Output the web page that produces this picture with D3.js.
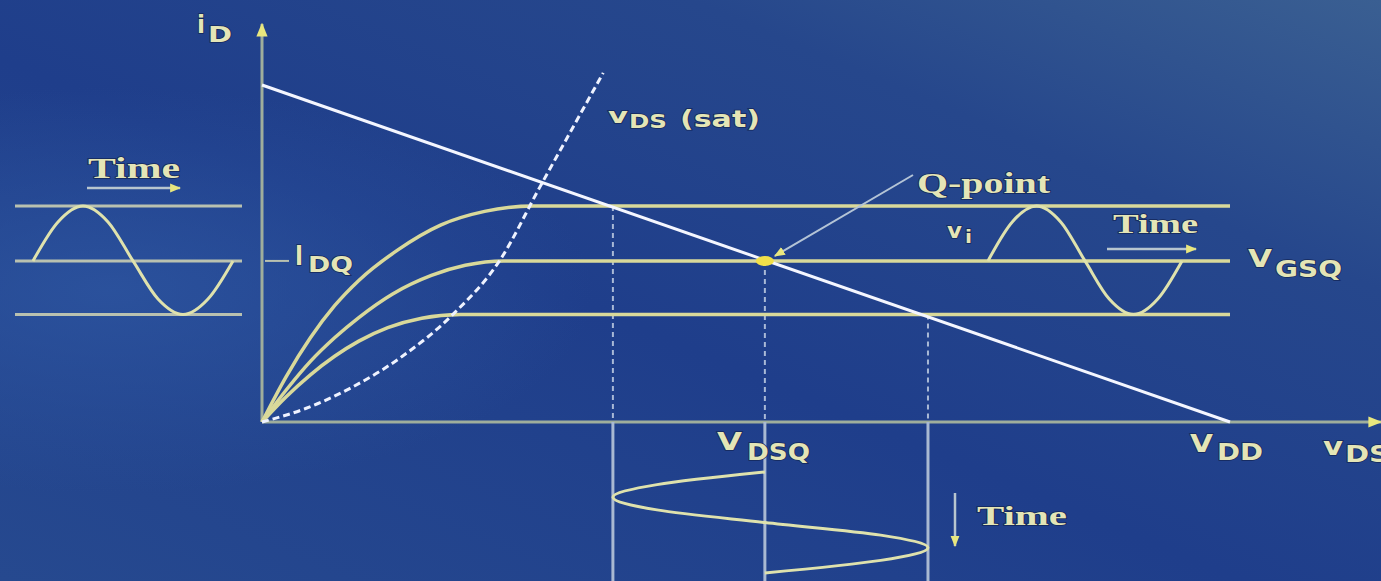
<!DOCTYPE html>
<html>
<head>
<meta charset="utf-8">
<script src="https://cdn.jsdelivr.net/npm/d3@7/dist/d3.min.js"></script>
<style>
  html, body { margin: 0; padding: 0; background: #22438d; overflow: hidden; }
  svg { display: block; }
</style>
</head>
<body>
<div class="graph"></div>
<script>
// values: vDS in volts, iD in mA
const vdd = 20;
const idMax = 10;
const curveTop = [[0, 0], [0.5, 1.35], [1.0, 2.5], [1.5, 3.45], [2.0, 4.2], [2.8, 5.1], [3.7, 5.85], [4.6, 6.25], [5.6, 6.41], [20, 6.41]];
const curveMid = [[0, 0], [0.5, 0.95], [1.0, 1.8], [1.5, 2.5], [2.0, 3.1], [2.7, 3.8], [3.5, 4.35], [4.2, 4.65], [5.0, 4.78], [20, 4.78]];
const curveLow = [[0, 0], [0.5, 0.75], [1.0, 1.4], [1.5, 1.95], [2.0, 2.4], [2.6, 2.8], [3.3, 3.08], [4.1, 3.19], [20, 3.19]];
const satLine = [[0, 0], [0.9, 0.4], [1.82, 1.0], [2.9, 1.95], [3.95, 3.2], [4.92, 4.81], [5.74, 6.97], [6.4, 8.68], [7.05, 10.36]];
const loadLine = [[0, 10], [20, 0]];
const qPoint = [10.39, 4.78];
const levels = [3.19, 4.78, 6.41];          // iD of the three gate voltages
const swingV = [7.25, 10.39, 13.76];        // vDS where the load line cuts them
const dropPairs = [[7.25, 6.41], [10.39, 4.78], [13.76, 3.19]];
// one period of the input / output signals
const sineT = [0, 0.125, 0.25, 0.375, 0.5, 0.625, 0.75, 0.875, 1];
const sineUp = [0, 0.71, 1, 0.71, 0, -0.71, -1, -0.71, 0];
const sineOut = [0, -0.71, -1, -0.71, 0, 0.71, 1, 0.71, 0];

const W = 1381, H = 581;
const svg = d3.select(".graph").append("svg")
    .attr("width", W)
    .attr("height", H);

const defs = svg.append("defs");
const bg = defs.append("linearGradient").attr("id", "bg")
    .attr("x1", "0").attr("y1", "1").attr("x2", "1").attr("y2", "0");
bg.append("stop").attr("offset", "0").attr("stop-color", "#26498f");
bg.append("stop").attr("offset", "0.45").attr("stop-color", "#1f3e8b");
bg.append("stop").attr("offset", "0.75").attr("stop-color", "#26478c");
bg.append("stop").attr("offset", "1").attr("stop-color", "#3a5f92");
const glow = defs.append("radialGradient").attr("id", "glow")
    .attr("cx", "0.08").attr("cy", "0.5").attr("r", "0.35");
glow.append("stop").attr("offset", "0").attr("stop-color", "#2d55a0").attr("stop-opacity", 0.8);
glow.append("stop").attr("offset", "1").attr("stop-color", "#2d55a0").attr("stop-opacity", 0);

function arrowMarker(id, size) {
    defs.append("marker").attr("id", id)
        .attr("viewBox", "0 0 10 10")
        .attr("refX", 9).attr("refY", 5)
        .attr("markerWidth", size).attr("markerHeight", size)
        .attr("markerUnits", "userSpaceOnUse")
        .attr("orient", "auto")
        .append("path")
        .attr("d", "M0,1 L10,5 L0,9 Z")
        .attr("fill", "#e9e77e");
}
arrowMarker("head", 14);
arrowMarker("small", 11);

svg.append("rect").attr("width", W).attr("height", H).attr("fill", "url(#bg)");
svg.append("rect").attr("width", W).attr("height", H).attr("fill", "url(#glow)");

var x = d3.scaleLinear().domain([0, vdd]).range([262, 1230]);
var y = d3.scaleLinear().domain([0, idMax]).range([422, 85]);

var yellow = "#d9d99a";
var axisCol = "#9fae9c";
var textCol = "#e4e5b6";

// axes
svg.append("line")
    .attr("x1", x(0)).attr("y1", y(0)).attr("x2", x(0)).attr("y2", 24)
    .attr("stroke", axisCol).attr("stroke-width", 3)
    .attr("marker-end", "url(#head)");
svg.append("line")
    .attr("x1", x(0)).attr("y1", y(0)).attr("x2", 1381).attr("y2", y(0))
    .attr("stroke", axisCol).attr("stroke-width", 3)
    .attr("marker-end", "url(#head)");

// projections of the swing onto the vDS axis
svg.selectAll(".drop").data(dropPairs).enter().append("line")
    .attr("class", "drop")
    .attr("x1", d => x(d[0])).attr("x2", d => x(d[0]))
    .attr("y1", d => y(d[1])).attr("y2", y(0))
    .attr("stroke", "#a9b9d6").attr("stroke-width", 2)
    .attr("stroke-dasharray", "5,4");
svg.selectAll(".below").data(dropPairs).enter().append("line")
    .attr("class", "below")
    .attr("x1", d => x(d[0])).attr("x2", d => x(d[0]))
    .attr("y1", y(0)).attr("y2", H)
    .attr("stroke", "#a9b9d2").attr("stroke-width", 3);

// drain curves
var valueLine = d3.line()
    .x(d => x(d[0]))
    .y(d => y(d[1]))
    .curve(d3.curveMonotoneX);
[curveTop, curveMid, curveLow].forEach(c => {
    svg.append("path")
        .data([c])
        .attr("fill", "none")
        .attr("stroke", yellow)
        .attr("stroke-width", 3.5)
        .attr("d", valueLine);
});

// vDS(sat) boundary
svg.append("path")
    .data([satLine])
    .attr("fill", "none")
    .attr("stroke", "#eef2ff")
    .attr("stroke-width", 3)
    .attr("stroke-dasharray", "7,4")
    .attr("d", valueLine);

// load line
svg.append("path")
    .data([loadLine])
    .attr("fill", "none")
    .attr("stroke", "#f4f6ff")
    .attr("stroke-width", 3)
    .attr("d", d3.line().x(d => x(d[0])).y(d => y(d[1])));

// input sine on the left, with its reference levels
var amp = d3.scaleLinear().domain([-1, 0, 1]).range([y(levels[0]), y(levels[1]), y(levels[2])]);
svg.selectAll(".ref").data(levels).enter().append("line")
    .attr("class", "ref")
    .attr("x1", 15).attr("x2", 242)
    .attr("y1", d => y(d)).attr("y2", d => y(d))
    .attr("stroke", "#b9c1b0").attr("stroke-width", 3);

var tLeft = d3.scaleLinear().domain([0, 1]).range([33, 233]);
svg.append("path")
    .data([sineUp])
    .attr("fill", "none").attr("stroke", "#dfe2ad").attr("stroke-width", 3)
    .attr("d", d3.line().x((d, i) => tLeft(sineT[i])).y(d => amp(d)).curve(d3.curveMonotoneX));

// same signal at the gate, on the right
var tRight = d3.scaleLinear().domain([0, 1]).range([988, 1182]);
svg.append("path")
    .data([sineUp])
    .attr("fill", "none").attr("stroke", "#dfe2ad").attr("stroke-width", 3)
    .attr("d", d3.line().x((d, i) => tRight(sineT[i])).y(d => amp(d)).curve(d3.curveMonotoneX));

// output swing below the axis
var swing = d3.scaleLinear().domain([-1, 0, 1]).range(swingV.map(v => x(v)));
var tDown = d3.scaleLinear().domain([0, 1]).range([472, 573]);
svg.append("path")
    .data([sineOut])
    .attr("fill", "none").attr("stroke", "#dfe2ad").attr("stroke-width", 3)
    .attr("d", d3.line().y((d, i) => tDown(sineT[i])).x(d => swing(d)).curve(d3.curveMonotoneY));

// Q-point
svg.append("ellipse")
    .attr("cx", x(qPoint[0])).attr("cy", y(qPoint[1]))
    .attr("rx", 9).attr("ry", 5)
    .attr("fill", "#f1e04a");
svg.append("line")
    .attr("x1", 913).attr("y1", 175)
    .attr("x2", x(qPoint[0]) + 10).attr("y2", y(qPoint[1]) - 5)
    .attr("stroke", "#b4c4d6").attr("stroke-width", 2)
    .attr("marker-end", "url(#small)");

// IDQ tick
svg.append("line")
    .attr("x1", x(0) + 3).attr("x2", x(0) + 27)
    .attr("y1", y(qPoint[1])).attr("y2", y(qPoint[1]))
    .attr("stroke", "#b9c1b0").attr("stroke-width", 2);

// time arrows
function timeArrow(x1, y1, x2, y2) {
    svg.append("line")
        .attr("x1", x1).attr("y1", y1).attr("x2", x2).attr("y2", y2)
        .attr("stroke", "#b8c6cf").attr("stroke-width", 2.5)
        .attr("marker-end", "url(#small)");
}
timeArrow(87, 188, 180, 188);
timeArrow(1107, 249, 1196, 249);
timeArrow(955, 493, 955, 546);

// labels
function put(txt, px, py, size, width, family, weight) {
    svg.append("text")
        .attr("x", px).attr("y", py)
        .attr("font-family", family || "DejaVu Sans")
        .attr("font-weight", weight || "bold")
        .attr("font-size", size)
        .attr("textLength", width)
        .attr("lengthAdjust", "spacingAndGlyphs")
        .attr("fill", textCol)
        .attr("stroke", "#14285a").attr("stroke-width", 1.5)
        .attr("paint-order", "stroke")
        .text(txt);
}
var serif = "Liberation Serif";

put("i", 197, 33, 24, 8);
put("D", 208, 42, 21, 24);

put("v", 608, 123, 21, 20);
put("DS", 629, 128, 20, 38);
put("(sat)", 680, 127, 23, 80);

put("Time", 88, 178, 29, 92, serif, "bold");
put("Q-point", 917, 193, 30, 133, serif, "bold");
put("Time", 1113, 233, 27, 85, serif, "bold");
put("Time", 977, 525, 27, 90, serif, "bold");

put("v", 947, 238, 21, 15);
put("i", 965, 243, 17, 7);

put("V", 1248, 267, 25, 24);
put("GSQ", 1275, 277, 23, 67);

put("I", 295, 265, 26, 8);
put("DQ", 308, 272, 22, 45);

put("V", 717, 450, 25, 25);
put("DSQ", 747, 460, 23, 63);

put("V", 1190, 452, 25, 23);
put("DD", 1217, 460, 23, 46);

put("v", 1323, 455, 25, 20);
put("DS", 1345, 462, 23, 45);
</script>
</body>
</html>
